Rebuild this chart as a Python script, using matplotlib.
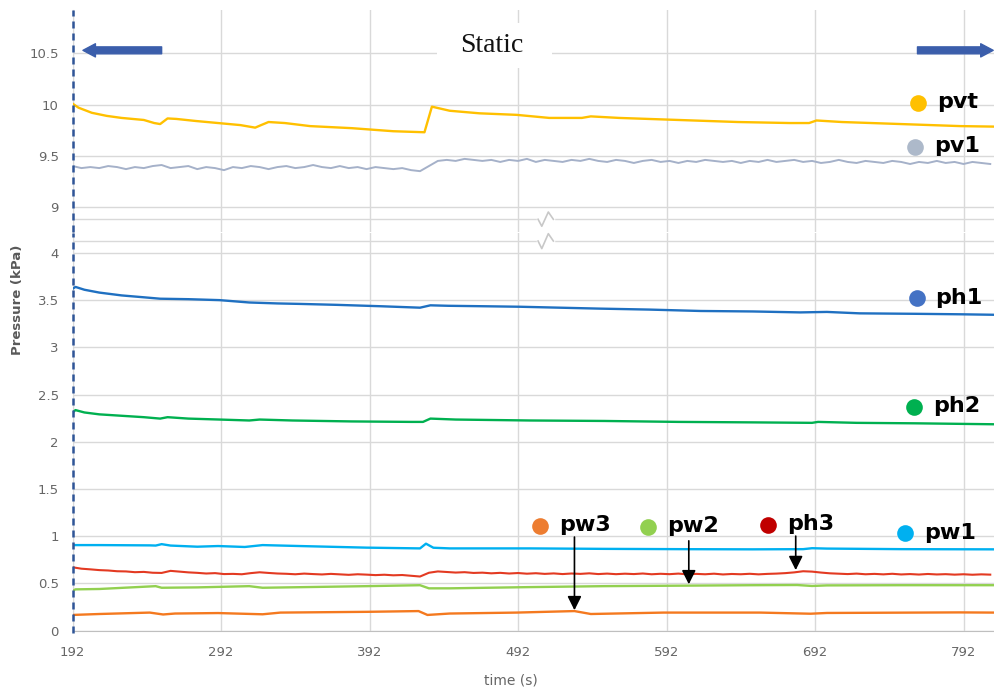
import numpy as np
import matplotlib
matplotlib.use('Agg')
import matplotlib.pyplot as plt
from matplotlib.patches import Rectangle

# logging times (s) for the two noisy channels pv1 / ph3
t_fine = np.arange(192, 811, 6)

x_ticks = [192, 292, 392, 492, 592, 692, 792]
top_ticks = [9, 9.5, 10, 10.5]
top_tick_labels = ['9', '9.5', '10', '10.5']
bot_ticks = [0, 0.5, 1, 1.5, 2, 2.5, 3, 3.5, 4]
bot_tick_labels = ['0', '0.5', '1', '1.5', '2', '2.5', '3', '3.5', '4']

pvt_t = [192, 196, 205, 215, 225, 240, 247, 251, 256, 262, 275, 290, 305, 315, 319,
         324, 335, 352, 380, 408, 429, 432, 434, 446, 466, 491, 513, 535, 541, 560,
         600, 640, 675, 688, 693, 710, 750, 790, 813]
pvt = [10.01, 9.97, 9.92, 9.89, 9.87, 9.85, 9.82, 9.81, 9.865, 9.86, 9.84, 9.82, 9.80, 9.775, 9.80,
       9.83, 9.82, 9.79, 9.77, 9.74, 9.73, 9.88, 9.98, 9.94, 9.915, 9.90, 9.87, 9.87, 9.885, 9.87,
       9.85, 9.83, 9.82, 9.82, 9.845, 9.83, 9.81, 9.79, 9.785]

pv1 = [9.40, 9.38, 9.39, 9.38, 9.40, 9.39, 9.37, 9.39, 9.38, 9.40,
       9.41, 9.38, 9.39, 9.40, 9.37, 9.39, 9.38, 9.36, 9.39, 9.38,
       9.40, 9.39, 9.37, 9.39, 9.40, 9.38, 9.39, 9.41, 9.39, 9.38,
       9.40, 9.38, 9.39, 9.37, 9.39, 9.38, 9.37, 9.38, 9.36, 9.35,
       9.40, 9.45, 9.46, 9.45, 9.47, 9.46, 9.45, 9.46, 9.44, 9.46,
       9.45, 9.47, 9.44, 9.46, 9.45, 9.44, 9.46, 9.45, 9.47, 9.45,
       9.44, 9.46, 9.45, 9.43, 9.45, 9.46, 9.44, 9.45, 9.43, 9.45,
       9.44, 9.46, 9.45, 9.44, 9.45, 9.43, 9.45, 9.44, 9.46, 9.44,
       9.45, 9.46, 9.44, 9.45, 9.43, 9.44, 9.46, 9.44, 9.43, 9.45,
       9.44, 9.43, 9.45, 9.44, 9.42, 9.44, 9.43, 9.45, 9.43, 9.44,
       9.42, 9.44, 9.43, 9.42]

ph1_t = [192, 194, 200, 210, 225, 240, 251, 270, 291, 311, 330, 345, 370, 400, 426,
         433, 445, 470, 493, 520, 547, 580, 615, 650, 682, 700, 722, 760, 790, 812]
ph1 = [3.62, 3.64, 3.61, 3.58, 3.55, 3.53, 3.515, 3.51, 3.50, 3.475, 3.465, 3.46, 3.45, 3.435, 3.42,
       3.445, 3.44, 3.435, 3.43, 3.42, 3.41, 3.40, 3.385, 3.38, 3.37, 3.375, 3.36, 3.355, 3.35, 3.345]

ph2_t = [192, 194, 200, 210, 225, 240, 251, 256, 270, 291, 311, 318, 340, 380, 420,
         428, 433, 450, 500, 550, 600, 650, 690, 694, 720, 760, 812]
ph2 = [2.31, 2.335, 2.31, 2.29, 2.275, 2.26, 2.245, 2.26, 2.245, 2.235, 2.225, 2.235, 2.225, 2.215, 2.21,
       2.21, 2.245, 2.235, 2.225, 2.22, 2.21, 2.205, 2.20, 2.21, 2.20, 2.195, 2.185]

pw1_t = [192, 210, 244, 248, 252, 258, 276, 290, 308, 320, 345, 390, 426, 430, 435,
         446, 500, 550, 600, 650, 684, 690, 700, 750, 812]
pw1 = [0.905, 0.905, 0.902, 0.90, 0.915, 0.90, 0.888, 0.895, 0.885, 0.905, 0.895, 0.878, 0.87, 0.92, 0.877,
       0.87, 0.87, 0.865, 0.862, 0.86, 0.862, 0.872, 0.868, 0.862, 0.86]

ph3 = [0.670, 0.655, 0.648, 0.640, 0.636, 0.628, 0.626, 0.618, 0.621, 0.612,
       0.610, 0.632, 0.624, 0.616, 0.611, 0.604, 0.608, 0.598, 0.600, 0.596,
       0.608, 0.617, 0.610, 0.604, 0.601, 0.596, 0.603, 0.598, 0.594, 0.600,
       0.595, 0.590, 0.596, 0.592, 0.587, 0.591, 0.585, 0.588, 0.580, 0.572,
       0.612, 0.626, 0.620, 0.614, 0.618, 0.610, 0.613, 0.606, 0.611, 0.604,
       0.609, 0.602, 0.607, 0.600, 0.605, 0.598, 0.604, 0.600, 0.606, 0.598,
       0.603, 0.597, 0.602, 0.598, 0.604, 0.596, 0.601, 0.597, 0.603, 0.595,
       0.600, 0.596, 0.602, 0.594, 0.599, 0.596, 0.601, 0.595, 0.600, 0.603,
       0.608, 0.616, 0.628, 0.624, 0.614, 0.606, 0.602, 0.598, 0.603, 0.596,
       0.600, 0.595, 0.601, 0.594, 0.598, 0.593, 0.599, 0.594, 0.597, 0.592,
       0.596, 0.591, 0.595, 0.592]

pw2_t = [192, 194, 210, 248, 252, 276, 311, 320, 390, 426, 432, 446, 500, 550, 600,
         650, 680, 690, 700, 750, 812]
pw2 = [0.42, 0.436, 0.44, 0.47, 0.453, 0.457, 0.47, 0.453, 0.47, 0.48, 0.447, 0.447, 0.46, 0.47, 0.475,
       0.48, 0.482, 0.472, 0.478, 0.48, 0.48]

pw3_t = [192, 210, 244, 253, 261, 290, 320, 332, 390, 425, 431, 446, 491, 530, 541,
         590, 655, 689, 700, 789, 812]
pw3 = [0.165, 0.175, 0.19, 0.17, 0.18, 0.185, 0.172, 0.19, 0.198, 0.206, 0.165, 0.18, 0.19, 0.206, 0.175,
       0.19, 0.19, 0.178, 0.186, 0.192, 0.19]

# series name -> (line colour, marker colour)
colors = {
    'pvt': ('#FFC000', '#FFC000'),
    'pv1': ('#A5B1C9', '#ADB9CA'),
    'ph1': ('#1F70C1', '#4472C4'),
    'ph2': ('#00B050', '#00B050'),
    'pw1': ('#00B0F0', '#00B0F0'),
    'ph3': ('#E33A22', '#C00000'),
    'pw2': ('#92D050', '#92D050'),
    'pw3': ('#F4791F', '#ED7D31'),
}

grid_c = '#D9D9D9'
tick_c = '#666666'
t_start = 192
t_end = 813.2

fig = plt.figure(figsize=(9.95, 6.9), dpi=100)
ax_top = fig.add_axes([0.0729, 0.6638, 0.9271, 0.3217])
ax_bot = fig.add_axes([0.0729, 0.0862, 0.9271, 0.5761])

for ax in (ax_top, ax_bot):
    ax.set_xlim(t_start, t_end)
    ax.set_xticks(x_ticks)
    ax.grid(True, color=grid_c, lw=1.0)
    ax.set_axisbelow(True)
    for s in ax.spines.values():
        s.set_visible(False)
    ax.spines['left'].set_visible(True)
    ax.spines['left'].set_color(grid_c)
    ax.tick_params(length=0, colors=tick_c, labelsize=9.5)
    ax.tick_params(axis='y', pad=10)

ax_top.set_ylim(8.756, 10.924)
ax_top.set_yticks(top_ticks)
ax_top.set_yticklabels(top_tick_labels)
ax_top.tick_params(labelbottom=False)
ax_top.axhline(8.88, color=grid_c, lw=1.0, zorder=0.6)

ax_bot.set_ylim(0, 4.211)
ax_bot.set_yticks(bot_ticks)
ax_bot.set_yticklabels(bot_tick_labels)
ax_bot.tick_params(axis='x', pad=11)
ax_bot.spines['bottom'].set_visible(True)
ax_bot.spines['bottom'].set_color('#BFBFBF')
ax_bot.axhline(4.126, color=grid_c, lw=1.0, zorder=0.6)

# axis break marks on the two split lines
def draw_break(ax, y0, dn, up):
    xs = [505.5, 508, 512.4, 515.8]
    ax.plot([xs[0], xs[-1]], [y0, y0], color='white', lw=2.5, zorder=0.7, clip_on=False)
    ax.plot(xs, [y0, y0 - dn, y0 + up, y0], color='#C8C8C8', lw=1.2, zorder=0.8, clip_on=False)

draw_break(ax_top, 8.88, 0.068, 0.071)
draw_break(ax_bot, 4.126, 0.08, 0.078)

lw = 1.7
ax_top.plot(pvt_t, pvt, color=colors['pvt'][0], lw=lw, zorder=3)
ax_top.plot(t_fine, pv1, color=colors['pv1'][0], lw=1.4, zorder=3)
ax_bot.plot(ph1_t, ph1, color=colors['ph1'][0], lw=lw, zorder=3)
ax_bot.plot(ph2_t, ph2, color=colors['ph2'][0], lw=lw, zorder=3)
ax_bot.plot(pw1_t, pw1, color=colors['pw1'][0], lw=lw, zorder=3)
ax_bot.plot(t_fine, ph3, color=colors['ph3'][0], lw=1.5, zorder=3)
ax_bot.plot(pw2_t, pw2, color=colors['pw2'][0], lw=lw, zorder=3)
ax_bot.plot(pw3_t, pw3, color=colors['pw3'][0], lw=lw, zorder=3)

# start of the static phase
ax_top.axvline(t_start, color='#2F5597', lw=1.8, ls=(0, (2.8, 2)), clip_on=False, zorder=6)
ax_bot.axvline(t_start, ymin=-0.006, color='#2F5597', lw=1.8, ls=(0, (2.8, 2)), clip_on=False, zorder=6)

# "Static" banner with the two blue arrows
ax_top.add_patch(Rectangle((437.5, 10.357), 77.4, 0.44, facecolor='white', edgecolor='none', zorder=1.2))
ax_top.text(474.2, 10.576, 'Static', ha='center', va='center', fontsize=20,
            family='Liberation Serif', color='#111111', zorder=4)
blue_arrow = dict(arrowstyle='simple,head_length=0.9,head_width=0.95,tail_width=0.5',
                  color='#3B5EAB', mutation_scale=10, shrinkA=0, shrinkB=0)
ax_top.annotate('', xy=(199, 10.53), xytext=(252, 10.53), arrowprops=blue_arrow, zorder=5)
ax_top.annotate('', xy=(812, 10.53), xytext=(761, 10.53), arrowprops=blue_arrow, zorder=5)

# series labels: coloured dot + bold name
labels = [
    (ax_top, 'pvt', 761.4, 10.02),
    (ax_top, 'pv1', 759.3, 9.59),
    (ax_bot, 'ph1', 760.5, 3.52),
    (ax_bot, 'ph2', 758.7, 2.37),
    (ax_bot, 'pw1', 752.6, 1.03),
    (ax_bot, 'pw3', 506.8, 1.107),
    (ax_bot, 'pw2', 579.6, 1.10),
    (ax_bot, 'ph3', 660.3, 1.12),
]
for ax, name, lx, ly in labels:
    ax.plot([lx], [ly], 'o', ms=12, color=colors[name][1], mec='none', zorder=5, clip_on=False)
    ax.annotate(name, (lx, ly), xytext=(13.5, 0.5), textcoords='offset points',
                ha='left', va='center', fontsize=16, fontweight='bold', color='black', zorder=5)

# pointers to the low-pressure traces
black_arrow = dict(arrowstyle='-|>,head_length=0.6,head_width=0.3', color='black',
                   lw=1.2, mutation_scale=14, shrinkA=0, shrinkB=0)
ax_bot.annotate('', xy=(530, 0.215), xytext=(530, 0.99), arrowprops=black_arrow, zorder=6)
ax_bot.annotate('', xy=(607, 0.49), xytext=(607, 0.95), arrowprops=black_arrow, zorder=6)
ax_bot.annotate('', xy=(679, 0.64), xytext=(679, 1.0), arrowprops=black_arrow, zorder=6)

fig.text(18 / 995, 1 - 300 / 690, 'Pressure (kPa)', rotation=90, ha='center', va='center',
         fontsize=9.5, fontweight='bold', color='#595959')
fig.text(511 / 995, 1 - 680 / 690, 'time (s)', ha='center', va='center',
         fontsize=10, color='#666666')

fig.savefig('out.png', dpi=100)
